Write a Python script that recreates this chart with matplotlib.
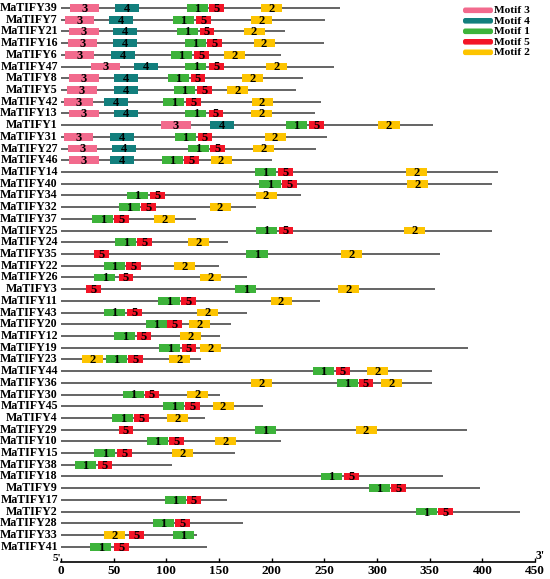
import matplotlib
matplotlib.use("Agg")
import matplotlib.pyplot as plt
from matplotlib.patches import FancyBboxPatch

# gene order, top to bottom
genes = ["MaTIFY39", "MaTIFY7", "MaTIFY21", "MaTIFY16", "MaTIFY6", "MaTIFY47",
         "MaTIFY8", "MaTIFY5", "MaTIFY42", "MaTIFY13", "MaTIFY1", "MaTIFY31",
         "MaTIFY27", "MaTIFY46", "MaTIFY14", "MaTIFY40", "MaTIFY34", "MaTIFY32",
         "MaTIFY37", "MaTIFY25", "MaTIFY24", "MaTIFY35", "MaTIFY22", "MaTIFY26",
         "MaTIFY3", "MaTIFY11", "MaTIFY43", "MaTIFY20", "MaTIFY12", "MaTIFY19",
         "MaTIFY23", "MaTIFY44", "MaTIFY36", "MaTIFY30", "MaTIFY45", "MaTIFY4",
         "MaTIFY29", "MaTIFY10", "MaTIFY15", "MaTIFY38", "MaTIFY18", "MaTIFY9",
         "MaTIFY17", "MaTIFY2", "MaTIFY28", "MaTIFY33", "MaTIFY41"]

# protein length (aa)
lengths = [265, 251, 213, 250, 209, 259, 230, 223, 247, 241, 353, 253,
           242, 200, 415, 409, 228, 185, 128, 409, 159, 360, 150, 177,
           355, 246, 177, 161, 151, 386, 133, 352, 352, 151, 192, 137,
           385, 209, 165, 105, 363, 398, 158, 436, 173, 129, 139]

# (motif, start) for each gene
motifs = [
    [(3, 8.5), (4, 51.4), (1, 119.3), (5, 140.4), (2, 190)],
    [(3, 3.8), (4, 45.5), (1, 106.3), (5, 128.5), (2, 180)],
    [(3, 7.9), (4, 49.5), (1, 110.1), (5, 131.6), (2, 173.3)],
    [(3, 6.6), (4, 49.5), (1, 117.4), (5, 138.9), (2, 182.8)],
    [(3, 3.8), (4, 47.3), (1, 104.2), (5, 126.2), (2, 154.4)],
    [(3, 28.4), (4, 69.4), (1, 118), (5, 140.4), (2, 194.8)],
    [(3, 7.9), (4, 50.5), (1, 101.3), (5, 123.1), (2, 172)],
    [(3, 6), (4, 50.5), (1, 107.3), (5, 129.4), (2, 157.5)],
    [(3, 2.5), (4, 40.7), (1, 97.2), (5, 119), (2, 180.9)],
    [(3, 7.9), (4, 50.5), (1, 118), (5, 140.2), (2, 180)],
    [(3, 95), (4, 141), (1, 213.7), (5, 235.5), (2, 301.4)],
    [(3, 2.5), (4, 46.4), (1, 108.3), (5, 129.7), (2, 193.2)],
    [(3, 6.6), (4, 48.6), (1, 120.3), (5, 141.7), (2, 182.1)],
    [(3, 7.9), (4, 46.4), (1, 95.6), (5, 116.8), (2, 142)],
    [(1, 184), (5, 205.8), (2, 327.7)],
    [(1, 188.4), (5, 209.6), (2, 328.6)],
    [(1, 62.5), (5, 84.3), (2, 184.7)],
    [(1, 54.6), (5, 76.4), (2, 141)],
    [(1, 29.7), (5, 50.2), (2, 88)],
    [(1, 185), (5, 206.7), (2, 325.4)],
    [(1, 51.4), (5, 72.6), (2, 120.5)],
    [(5, 31.5), (1, 176.1), (2, 265.8)],
    [(1, 40.7), (5, 61.6), (2, 107)],
    [(1, 31.5), (5, 54.6), (2, 131.9)],
    [(5, 23.7), (1, 165.4), (2, 262.6)],
    [(1, 92.5), (5, 114.3), (2, 198.9)],
    [(1, 40.7), (5, 62.5), (2, 129.4)],
    [(1, 80.5), (5, 101), (2, 121.2)],
    [(1, 50.5), (5, 71.7), (2, 113.3)],
    [(1, 93.4), (5, 114.6), (2, 131.9)],
    [(2, 19.9), (1, 42.6), (5, 63.4), (2, 102.6)],
    [(1, 239), (5, 260.7), (2, 290.7)],
    [(2, 180), (1, 262), (5, 282.5), (2, 303.7)],
    [(1, 58.7), (5, 79.5), (2, 119.3)],
    [(1, 97.2), (5, 118), (2, 143.9)],
    [(1, 48.6), (5, 69.4), (2, 100.4)],
    [(5, 54.6), (1, 184), (2, 279.6)],
    [(1, 81.4), (5, 102.6), (2, 146.1)],
    [(1, 31.5), (5, 53.3), (2, 105.1)],
    [(1, 13), (5, 34.7)],
    [(1, 246.8), (5, 268.9)],
    [(1, 292), (5, 313.4)],
    [(1, 98.8), (5, 119.3)],
    [(1, 336.8), (5, 358.3)],
    [(1, 87.4), (5, 108.6)],
    [(2, 40.7), (5, 64.4), (1, 106.3)],
    [(1, 27.7), (5, 50.5)],
]

# motif widths (aa) and colours
motif_len = {3: 28, 4: 23, 1: 20, 5: 14, 2: 20}
motif_col = {3: "#F26A8D", 4: "#127F7D", 1: "#3DB33A", 5: "#F31426", 2: "#FDC400"}
legend_order = [3, 4, 1, 5, 2]

serif = ["Liberation Serif", "DejaVu Serif"]

W, H = 550, 579
fig = plt.figure(figsize=(W / 100, H / 100), dpi=100)
ax = fig.add_axes([61 / W, (H - 562) / H, 474 / W, 562 / H])

n = len(genes)
ys = list(range(n))
ax.hlines(ys, 0, lengths, color="#4a4a4a", lw=1.2, zorder=1)

for y, name, ms in zip(ys, genes, motifs):
    for m, start in ms:
        w = motif_len[m]
        ax.barh(y, w, left=start, height=0.66, color=motif_col[m], zorder=2)
        ax.text(start + w / 2, y + 0.08, str(m), ha="center", va="center",
                fontsize=9, fontweight="bold", family=serif, zorder=3)
    ax.text(-3, y, name, ha="right", va="center", fontsize=8.6,
            fontweight="bold", family=serif, clip_on=False)

ax.set_xlim(0, 450)
ax.set_ylim(n - 1 + 1.3, -0.68)
for s in ["left", "right", "top"]:
    ax.spines[s].set_visible(False)
ax.spines["bottom"].set_linewidth(1.2)
ax.set_yticks([])
ax.set_xticks(range(0, 451, 50))
ax.tick_params(axis="x", direction="in", length=3, width=1, pad=2)
for lab in ax.get_xticklabels():
    lab.set_fontsize(9.5)
    lab.set_fontweight("bold")
    lab.set_family(serif)

fig.text(57 / W, 1 - 558.5 / H, "5'", ha="center", va="center", fontsize=8,
         fontweight="bold", family=serif)
fig.text(540 / W, 1 - 556 / H, "3'", ha="center", va="center", fontsize=8.5,
         fontweight="bold", family=serif)

# legend
for i, m in enumerate(legend_order):
    yc = 10.3 + i * 10.5
    box = FancyBboxPatch((463 / W, 1 - (yc + 2.8) / H), 30 / W, 5.6 / H,
                         boxstyle="round,pad=0,rounding_size=0.004",
                         transform=fig.transFigure, color=motif_col[m],
                         ec="none")
    fig.add_artist(box)
    fig.text(494.5 / W, 1 - (yc + 0.4) / H, "Motif %d" % m, ha="left",
             va="center", fontsize=8.2, fontweight="bold", family=serif)

fig.savefig("out.png", dpi=100)
